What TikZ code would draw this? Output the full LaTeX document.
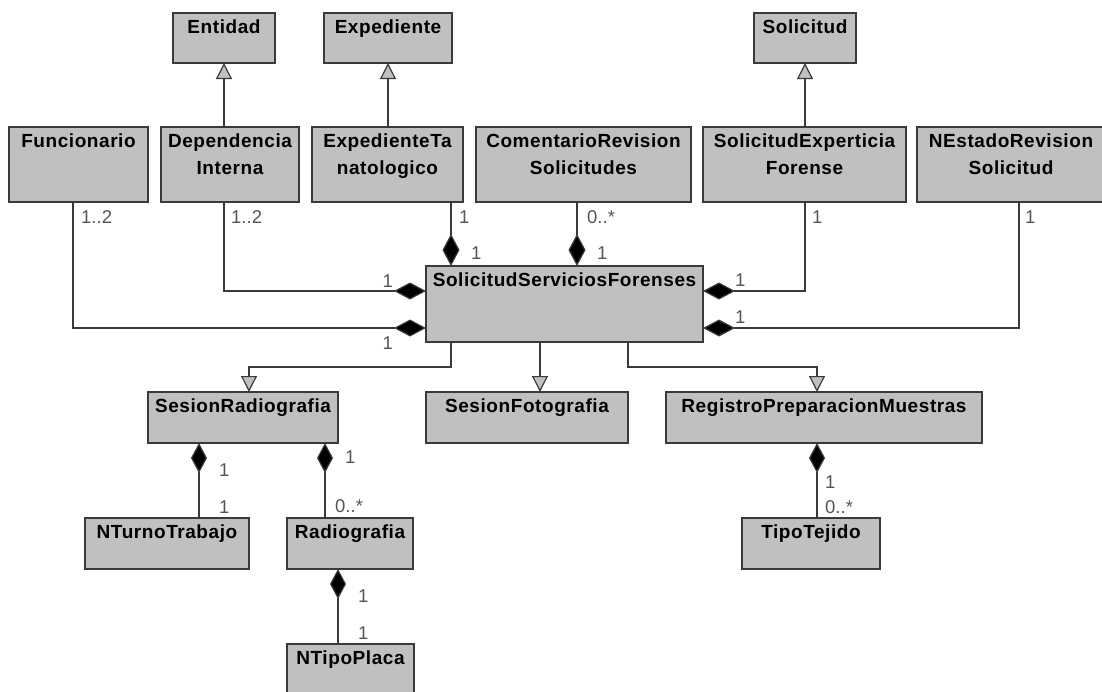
\documentclass[tikz,border=0pt]{standalone}
\usepackage{fontspec}
\setmainfont{Liberation Sans}
\newfontfamily\classfamily{Liberation Sans}[LetterSpace=3]
\usetikzlibrary{arrows.meta}
\definecolor{boxgray}{HTML}{C0C0C0}
\definecolor{edgegray}{HTML}{3A3A3A}
\definecolor{multgray}{HTML}{555555}

% class box: name, left, top, width, height, caption
\newcommand\classnode[6]{%
  \node[classbox] (#1) at (#2,#3)
    {\parbox[t][#5pt][t]{#4pt}{\centering\rule{0pt}{20.5pt}#6}};}

\tikzset{
  classbox/.style={draw=edgegray, fill=boxgray, line width=1.3pt,
    inner sep=0pt, outer sep=0pt, anchor=north west,
    font=\classfamily\bfseries\fontsize{19}{27}\selectfont},
  link/.style={draw=edgegray, line width=1.2pt},
  gen/.style={link, -{Triangle[length=16pt, width=16pt, fill=boxgray]}},
  compend/.style={link, -{Diamond[length=32pt, width=17pt, fill=black]}},
  compstart/.style={link, {Diamond[length=30pt, width=16pt, fill=black]}-},
  mult/.style={inner sep=0pt, text=multgray, font=\fontsize{18.5}{20}\selectfont}
}

\begin{document}
\begin{tikzpicture}[x=1pt, y=-1pt]
\useasboundingbox (0,0) rectangle (1102,691);
\fill[white] (0,0) rectangle (1102,691);
\clip (0,0) rectangle (1102,691);

% parent classes
\classnode{ent}{173}{13}{102}{50}{Entidad}
\classnode{exp}{324}{13}{128}{50}{Expediente}
\classnode{sol}{754}{13}{102}{50}{Solicitud}

% classes associated with the central request
\classnode{fun}{9}{127}{139}{75}{Funcionario}
\classnode{dep}{161}{127}{138}{75}{Dependencia\\Interna}
\classnode{ext}{312}{127}{151}{75}{ExpedienteTa\\natologico}
\classnode{com}{476}{127}{215}{75}{ComentarioRevision\\Solicitudes}
\classnode{sef}{703}{127}{203}{75}{SolicitudExperticia\\Forense}
\classnode{nes}{917}{127}{188}{75}{NEstadoRevision\\Solicitud}

% central class
\classnode{ssf}{426}{266}{277}{76}{SolicitudServiciosForenses}

% sessions
\classnode{sra}{148}{392}{190}{51}{SesionRadiografia}
\classnode{sfo}{426}{392}{202}{51}{SesionFotografia}
\classnode{rpm}{666}{392}{316}{51}{RegistroPreparacionMuestras}

% parts
\classnode{ntt}{85}{518}{164}{51}{NTurnoTrabajo}
\classnode{rad}{287}{518}{126}{51}{Radiografia}
\classnode{tte}{742}{518}{138}{51}{TipoTejido}
\classnode{ntp}{287}{644}{127}{60}{NTipoPlaca}

% inheritance upwards
\draw[gen] (dep.north -| ent.south) -- (ent.south);
\draw[gen] (ext.north -| exp.south) -- (exp.south);
\draw[gen] (sef.north -| sol.south) -- (sol.south);

% compositions into the central class
\coordinate (ssfA) at ([xshift=25pt]ssf.north west);
\coordinate (ssfB) at ([xshift=151pt]ssf.north west);
\draw[compend] ([xshift=-5.5pt]fun.south) |- ([yshift=-24pt]ssf.west);
\draw[compend] (dep.south -| ent.south) |- ([yshift=13pt]ssf.west);
\draw[compend] (ext.south -| ssfA) -- (ssfA);
\draw[compend] (com.south -| ssfB) -- (ssfB);
\draw[compend] (sef.south -| sol.south) |- ([yshift=13pt]ssf.east);
\draw[compend] ([xshift=8pt]nes.south) |- ([yshift=-24pt]ssf.east);

% inheritance downwards
\draw[gen] ([xshift=25pt]ssf.south west) -- ++(0,25) -| ([xshift=6pt]sra.north);
\draw[gen] ([xshift=-24.5pt]ssf.south) -- ([xshift=13pt]sfo.north);
\draw[gen] ([xshift=202pt]ssf.south west) -- ++(0,25) -| ([xshift=-7pt]rpm.north);

% lower compositions
\coordinate (sraA) at ([xshift=51pt]sra.south west);
\coordinate (sraB) at ([xshift=177pt]sra.south west);
\coordinate (radA) at ([xshift=51pt]rad.south west);
\coordinate (rpmA) at ([xshift=151pt]rpm.south west);
\draw[compstart] (sraA) -- (sraA |- ntt.north);
\draw[compstart] (sraB) -- (sraB |- rad.north);
\draw[compstart] (radA) -- (radA |- ntp.north);
\draw[compstart] (rpmA) -- (rpmA |- tte.north);

% multiplicities
\node[mult, anchor=west] (m1) at (81,217) {1..2};
\node[mult, anchor=west] (m2) at (231,217) {1..2};
\node[mult, anchor=west] (m3) at (459,217) {1};
\node[mult, anchor=west] (m4) at (587,217) {0..*};
\node[mult, anchor=west] (m5) at (812,217) {1};
\node[mult, anchor=west] (m6) at (1025,217) {1};
\node[mult, anchor=east] (m7) at (393,281) {1};
\node[mult, anchor=east] (m8) at (393,343) {1};
\node[mult, anchor=west] (m9) at (471,253) {1};
\node[mult, anchor=west] (m10) at (597,253) {1};
\node[mult, anchor=west] (m11) at (735,280) {1};
\node[mult, anchor=west] (m12) at (735,317) {1};
\node[mult, anchor=west] (m13) at (219,470) {1};
\node[mult, anchor=west] (m14) at (219,507) {1};
\node[mult, anchor=west] (m15) at (345,457) {1};
\node[mult, anchor=west] (m16) at (335,506) {0..*};
\node[mult, anchor=west] (m17) at (358,596) {1};
\node[mult, anchor=west] (m18) at (358,633) {1};
\node[mult, anchor=west] (m19) at (825,482) {1};
\node[mult, anchor=west] (m20) at (825,507) {0..*};
\end{tikzpicture}
\end{document}
